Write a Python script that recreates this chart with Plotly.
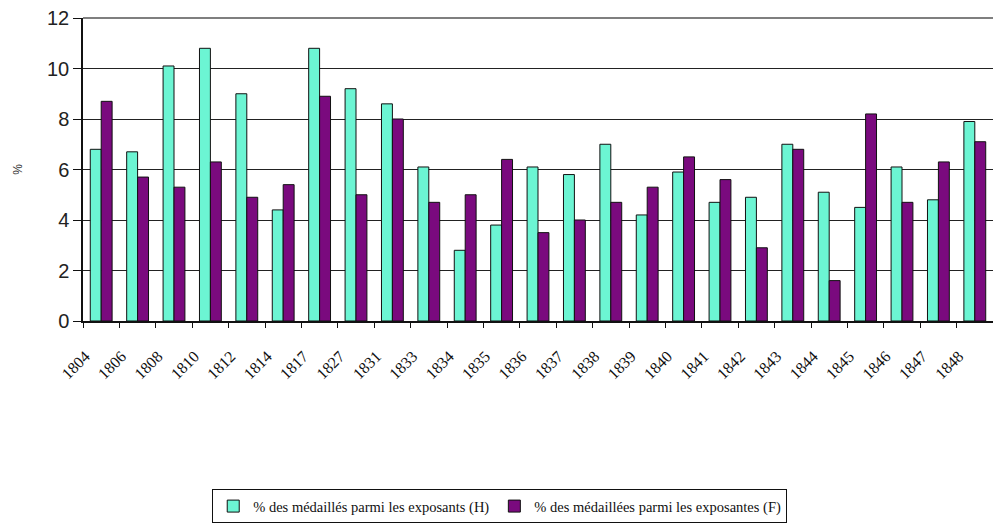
import plotly.graph_objects as go

# Exhibition years (categories)
years = ["1804", "1806", "1808", "1810", "1812", "1814", "1817", "1827", "1831",
         "1833", "1834", "1835", "1836", "1837", "1838", "1839", "1840", "1841",
         "1842", "1843", "1844", "1845", "1846", "1847", "1848"]

# % of medal winners among male exhibitors
hommes = [6.8, 6.7, 10.1, 10.8, 9.0, 4.4, 10.8, 9.2, 8.6,
          6.1, 2.8, 3.8, 6.1, 5.8, 7.0, 4.2, 5.9, 4.7,
          4.9, 7.0, 5.1, 4.5, 6.1, 4.8, 7.9]

# % of medal winners among female exhibitors
femmes = [8.7, 5.7, 5.3, 6.3, 4.9, 5.4, 8.9, 5.0, 8.0,
          4.7, 5.0, 6.4, 3.5, 4.0, 4.7, 5.3, 6.5, 5.6,
          2.9, 6.8, 1.6, 8.2, 4.7, 6.3, 7.1]

y_ticks = [0, 2, 4, 6, 8, 10, 12]

label_h = "% des médaillés parmi les exposants (H)"
label_f = "% des médaillées parmi les exposantes (F)"

fig = go.Figure()
fig.add_trace(go.Bar(
    x=years, y=hommes, name=label_h,
    marker=dict(color="#6CF5D3", line=dict(color="#111111", width=1)),
))
fig.add_trace(go.Bar(
    x=years, y=femmes, name=label_f,
    marker=dict(color="#7A0A7E", line=dict(color="#111111", width=1)),
))

# top border of the plotting area (gridline at the highest tick)
fig.add_shape(
    type="line", xref="paper", yref="paper",
    x0=0, x1=1, y0=1, y1=1,
    line=dict(color="#555555", width=1.3), layer="below",
)

fig.update_layout(
    width=993, height=529,
    margin=dict(l=83, r=0, t=18, b=208),
    paper_bgcolor="white", plot_bgcolor="white",
    barmode="group", bargap=0.4, bargroupgap=0,
    showlegend=True,
    legend=dict(
        orientation="h",
        x=0.142, y=-0.555, xanchor="left", yanchor="top",
        font=dict(family="Liberation Serif", size=14.5, color="#111111"),
        bordercolor="#111111", borderwidth=1,
        itemwidth=30, tracegroupgap=0,
    ),
    font=dict(family="Liberation Sans", color="#222222"),
)

fig.update_xaxes(
    type="category",
    showline=True, linecolor="#111111", linewidth=1.5,
    ticks="outside", tickson="boundaries", ticklen=5, tickcolor="#111111",
    tickangle=-45,
    tickfont=dict(family="Liberation Serif", size=16, color="#111111"),
    ticklabelshift=-16, ticklabelstandoff=18,
    showgrid=False,
)

fig.update_yaxes(
    range=[0, 12], tickvals=y_ticks,
    showline=True, linecolor="#111111", linewidth=1.5,
    ticks="outside", ticklen=8, tickcolor="#111111",
    tickfont=dict(family="Liberation Sans", size=20, color="#222222"),
    showgrid=True, gridcolor="#222222", gridwidth=1.3,
    zeroline=False,
    title=dict(text="%", font=dict(family="Liberation Sans", size=12, color="#333333"),
               standoff=22),
)

fig.write_html("out.html")
